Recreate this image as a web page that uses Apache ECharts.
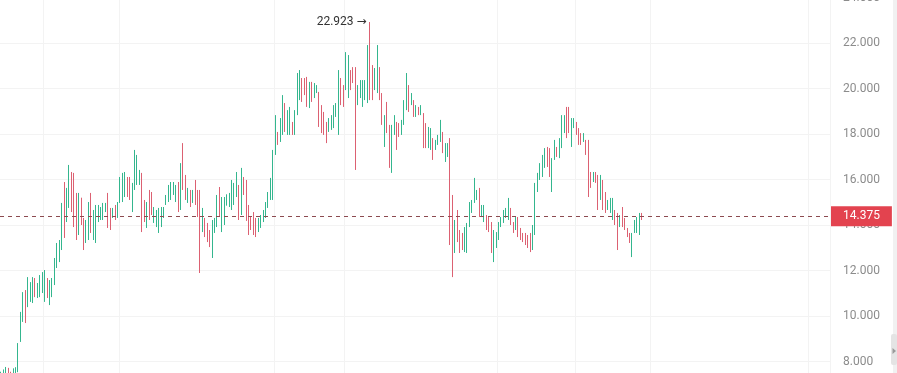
<!DOCTYPE html>
<html>
<head>
<meta charset="utf-8">
<script src="https://cdn.jsdelivr.net/npm/echarts@6/dist/echarts.min.js"></script>
<style>
html,body{margin:0;padding:0;background:#fff;}
#c{width:897px;height:373px;}
</style>
</head>
<body>
<div id="c"></div>
<script>
// OHLC values
const opens = [
7.2,7.45,7.5,7.7,7.45,7.3,7.6,7.7,8.9,10.0,
10.9,10.5,10.8,10.9,11.5,10.9,11.1,11.2,10.9,11.6,
10.8,11.0,11.5,12.3,12.6,13.1,15.5,14.3,15.0,16.2,
16.0,15.2,13.8,15.0,14.2,13.4,13.6,15.1,13.6,13.5,
14.3,14.3,14.4,14.6,15.2,14.6,14.35,14.8,14.4,15.0,
15.3,15.5,16.0,15.9,14.8,15.7,16.0,15.9,16.2,14.9,
14.0,15.4,15.2,14.2,14.0,13.8,14.0,14.4,14.9,15.1,
15.2,15.4,15.1,15.8,14.8,16.6,16.0,15.1,15.5,15.0,
15.9,15.4,15.2,13.8,14.2,14.0,13.7,12.8,13.7,14.0,
15.5,13.8,14.2,15.0,14.9,14.8,15.0,15.4,15.6,14.6,16.0,
15.8,14.7,14.3,14.4,14.2,13.7,13.9,14.2,14.4,14.8,
15.2,15.3,17.2,18.0,17.7,18.1,19.3,18.1,18.1,18.5,
18.0,19.0,19.6,20.4,20.3,20.4,19.3,20.2,19.6,19.85,
19.8,19.1,18.8,18.4,18.1,18.2,18.4,18.8,18.3,20.3,
20.0,20.0,19.8,20.7,20.9,20.7,19.3,19.7,19.3,19.6,
19.5,21.7,20.9,20.0,20.0,20.8,19.7,17.6,19.2,18.3,
16.6,18.0,18.4,18.4,18.0,18.5,19.2,20.0,19.3,19.4,
18.8,19.15,18.9,18.8,18.3,17.5,17.4,17.7,17.35,17.55,
17.7,18.0,16.9,17.1,17.6,14.9,12.9,14.5,13.6,13.5,
12.9,12.9,14.0,14.6,15.0,15.15,15.5,14.4,14.2,14.4,
14.3,14.0,12.6,13.1,13.4,13.95,14.1,14.35,14.3,
14.7,14.1,13.8,14.3,13.8,13.6,13.6,13.5,13.5,13.0,
13.8,15.5,16.0,16.2,16.6,17.3,17.2,15.6,16.9,17.4,
17.0,17.5,18.1,19.0,19.0,17.6,18.3,18.5,18.2,18.0,
17.65,17.7,17.6,16.3,15.9,16.3,16.0,15.2,15.9,15.3,
14.7,14.6,14.3,14.6,14.4,14.0,14.7,14.2,13.85,13.6,
12.8,13.7,13.8,13.7,14.4
];
const closes = [
7.45,7.5,7.7,7.45,7.3,7.6,7.7,8.75,10.1,10.9,
9.9,11.5,11.3,11.6,11.0,11.3,11.7,11.8,11.9,11.0,
11.4,11.6,12.4,13.1,13.2,14.7,13.7,15.4,16.4,14.8,
14.2,13.6,15.1,14.4,13.2,14.0,14.8,13.9,14.4,14.7,
14.8,14.7,14.9,14.9,14.1,13.9,14.7,14.3,14.95,16.0,
16.1,16.2,15.4,15.3,15.7,17.0,16.9,16.3,14.0,14.3,
14.9,14.4,14.6,14.7,14.6,14.6,14.7,14.75,15.3,15.7,
15.8,15.85,15.7,14.8,16.6,15.8,15.3,15.5,14.9,15.5,
15.0,14.5,13.6,14.6,13.6,13.4,13.1,14.1,14.2,15.1,
14.5,15.0,15.1,15.2,15.3,15.8,15.7,16.2,14.4,16.3,15.5,
14.4,13.8,13.9,13.7,13.6,14.2,14.4,14.6,14.9,15.4,
15.9,17.1,18.6,17.6,18.5,19.5,18.2,18.9,19.0,18.0,
18.9,20.5,20.6,19.6,19.8,19.4,20.1,19.5,20.1,20.1,
18.5,18.2,18.1,17.7,18.6,18.7,19.1,19.3,20.5,19.4,
19.3,21.4,21.2,20.0,20.3,19.2,20.0,20.3,20.2,20.3,
21.6,19.8,19.6,20.8,21.7,19.6,18.5,18.7,18.2,16.8,
18.2,18.7,17.5,17.9,18.5,19.3,20.4,19.1,19.7,18.8,
19.2,18.9,19.2,17.6,17.5,18.2,18.1,17.0,17.7,17.9,
18.5,17.3,17.5,17.5,13.5,12.9,14.0,13.4,12.9,13.0,
13.8,13.9,14.9,15.0,15.9,15.5,14.5,14.8,14.8,13.9,
13.9,12.9,13.6,13.6,14.0,14.3,14.6,14.7,15.1,
14.1,13.7,14.3,13.6,13.4,13.3,13.2,13.1,12.9,13.9,
15.6,16.2,16.6,16.9,17.3,16.7,16.3,16.8,17.6,17.1,
17.7,18.7,18.7,18.0,18.2,18.5,18.65,18.0,17.6,17.6,
18.0,17.2,15.6,15.8,16.3,15.9,14.9,16.0,14.9,14.7,
15.05,15.1,15.1,14.1,13.8,14.4,14.0,13.85,13.5,13.3,
13.6,14.2,14.3,14.4,14.375
];
const lows = [
7.1,7.3,7.4,7.3,7.2,7.25,7.4,7.53,8.86,9.74,
9.69,10.39,10.62,10.57,10.83,10.79,10.83,11.01,10.62,10.79,
10.48,10.83,11.36,12.11,12.37,12.9,13.43,14.13,14.75,14.57,
13.91,13.34,13.56,14.0,12.9,13.21,13.34,13.65,13.34,13.21,
14.13,14.22,14.22,14.57,13.87,13.78,14.31,14.22,14.31,14.97,
15.01,15.23,15.23,15.10,14.57,15.54,15.76,15.76,13.69,14.13,
13.87,14.22,14.44,14.09,13.91,13.65,13.91,14.31,14.88,15.01,
15.10,15.32,15.01,14.57,14.66,15.54,15.10,14.97,14.79,14.97,
14.88,14.35,11.89,13.69,13.47,13.25,13.03,12.55,13.65,13.91,
14.35,13.69,14.00,14.85,14.79,14.66,14.88,15.23,14.22,14.44,15.32,
14.18,13.56,13.78,13.56,13.47,13.69,13.87,14.13,14.31,14.75,
15.10,15.10,17.08,17.52,17.65,17.96,18.09,17.96,17.96,17.96,
17.96,18.83,19.49,19.41,19.71,19.19,19.14,19.41,19.58,19.80,
18.31,18.04,17.96,17.60,18.09,18.18,18.26,18.75,17.96,19.27,
19.19,19.93,19.58,19.93,20.24,16.42,19.27,19.58,19.19,19.49,
19.36,19.49,19.49,19.93,19.80,19.49,18.40,17.43,18.04,16.51,
16.29,17.96,17.30,17.87,17.96,18.40,19.05,18.97,19.27,18.75,
18.75,18.83,18.83,17.38,17.38,17.38,17.30,16.86,17.30,17.52,
17.65,17.16,16.77,16.99,13.12,11.71,12.77,13.25,12.77,12.90,
12.81,12.77,13.91,14.53,14.97,15.10,14.35,14.35,14.13,13.78,
13.69,12.77,12.37,12.99,13.34,13.91,14.09,14.31,14.22,
14.00,13.65,13.78,13.47,13.34,13.25,13.12,12.99,12.81,12.90,
13.56,15.45,15.98,16.11,16.51,16.55,16.11,15.45,16.86,16.99,
16.94,17.38,18.04,17.82,18.04,17.43,18.26,17.96,17.52,17.52,
17.65,17.08,15.23,15.63,15.89,15.85,14.66,15.10,14.66,14.53,
14.66,14.53,14.22,14.00,12.90,13.91,13.91,13.78,13.47,13.21,
12.59,13.65,13.65,13.56,14.22
];
const highs = [
7.55,7.65,7.76,7.72,7.55,7.7,7.75,8.81,10.18,11.05,
11.14,11.71,11.49,11.71,11.67,11.45,11.80,11.93,12.02,11.67,
11.58,11.67,12.55,13.21,13.34,14.97,15.89,15.63,16.64,16.33,
16.29,15.41,15.41,15.2,14.31,14.22,15.01,15.41,14.66,14.88,
14.88,14.79,14.97,14.97,15.41,14.75,14.75,14.88,15.01,16.11,
16.29,16.33,16.11,16.11,15.85,17.30,17.08,16.42,16.29,15.10,
15.01,15.54,15.45,14.79,14.66,14.75,14.79,14.79,15.32,15.76,
15.89,15.89,15.76,15.89,16.72,17.60,16.20,15.63,15.54,15.54,
15.98,15.54,15.54,14.75,14.31,14.09,13.78,14.22,14.31,15.32,
15.67,15.23,15.23,15.35,15.41,15.98,15.85,16.33,15.76,16.51,16.11,
15.98,14.88,14.35,14.57,14.31,14.31,14.44,14.66,15.01,15.45,
16.07,17.30,18.83,18.09,18.70,19.71,19.36,19.05,19.19,18.53,
19.05,20.68,20.81,20.46,20.46,20.51,20.29,20.29,20.24,20.15,
19.85,19.27,18.97,18.53,18.70,18.83,19.27,19.36,20.81,20.46,
20.15,21.60,21.47,20.81,20.94,20.94,20.15,20.37,20.37,20.37,
21.91,22.923,21.03,20.90,21.91,20.94,19.80,18.83,19.41,18.40,
18.40,18.83,18.53,18.48,18.62,19.49,20.68,20.15,19.80,19.49,
19.27,19.19,19.27,18.92,18.48,18.31,18.26,17.82,17.74,17.96,
18.62,18.09,17.60,17.60,17.82,15.32,14.22,14.66,13.78,13.65,
13.91,14.09,15.01,15.10,16.07,15.54,15.63,14.88,14.88,14.44,
14.35,14.13,13.78,13.69,14.13,14.35,14.66,14.75,15.19,
14.75,14.13,14.35,14.35,13.87,13.65,13.65,13.56,13.65,14.00,
15.85,16.29,16.72,17.08,17.38,17.43,17.38,16.94,17.74,17.43,
17.82,18.83,18.83,19.19,19.19,18.70,18.70,18.53,18.26,18.04,
18.04,17.74,17.74,16.33,16.33,16.33,16.20,16.20,15.98,15.45,
15.10,15.19,15.19,14.66,14.53,14.44,14.79,14.31,13.87,13.65,
13.65,14.22,14.35,14.53,14.53
];
// category slots (data occupies the left part; the rest is empty space)
const slotCount = 342;
const categories = Array.from({length: slotCount}, (_, i) => String(i));
// period boundaries shown as faint vertical grid lines
const monthStarts = [18, 49, 113, 142, 205, 237, 268, 333];
// y-axis ticks
const yMin = 6, yMax = 24, yStep = 2;

const ohlc = opens.map((o, i) => [o, closes[i], lows[i], highs[i]]);
const lastClose = closes[closes.length - 1];
let maxIdx = 0;
highs.forEach((h, i) => { if (h > highs[maxIdx]) maxIdx = i; });
const maxHigh = highs[maxIdx];

const chart = echarts.init(document.getElementById('c'), null, {renderer: 'canvas'});
chart.setOption({
  animation: false,
  backgroundColor: '#ffffff',
  textStyle: {fontFamily: 'Roboto, "Noto Sans", sans-serif'},
  grid: {left: 0, right: 67, top: -2.5, bottom: -34, containLabel: false, outerBoundsMode: 'none'},
  xAxis: {
    type: 'category',
    data: categories,
    boundaryGap: true,
    axisLine: {show: false},
    axisTick: {show: false},
    axisLabel: {show: false},
    splitLine: {
      show: true,
      interval: (idx) => monthStarts.indexOf(idx) >= 0,
      lineStyle: {color: '#f3f3f3', width: 1}
    }
  },
  yAxis: {
    type: 'value',
    position: 'right',
    min: yMin, max: yMax, interval: yStep,
    axisLine: {show: false},
    axisTick: {show: false},
    axisLabel: {
      margin: 13,
      color: '#8c8c8c',
      fontSize: 12,
      fontFamily: 'Roboto',
      formatter: (v) => v.toFixed(3)
    },
    splitLine: {show: true, lineStyle: {color: '#f3f3f3', width: 1}}
  },
  graphic: [
    {type: 'rect', shape: {x: 893, y: 0, width: 4, height: 373}, style: {fill: '#f1f1f1'}, silent: true},
    {type: 'rect', shape: {x: 891, y: 334, width: 6, height: 31, r: 2}, style: {fill: '#e4e4e4'}, silent: true},
    {type: 'polygon', shape: {points: [[892.5, 348], [896, 351], [892.5, 354]]}, style: {fill: '#9a9a9a'}, silent: true}
  ],
  series: [{
    type: 'candlestick',
    data: ohlc,
    barWidth: 1,
    clip: true,
    itemStyle: {
      color: '#5ccba6',
      color0: '#ec8d99',
      borderColor: '#34b68e',
      borderColor0: '#dc6172',
      borderWidth: 1
    },
    markLine: {
      silent: true,
      symbol: ['none', 'none'],
      animation: false,
      lineStyle: {color: '#8c4a50', type: [4, 4], width: 1},
      label: {
        show: true,
        position: 'end',
        distance: 1,
        formatter: () => lastClose.toFixed(3),
        color: '#ffffff',
        fontSize: 12,
        fontFamily: 'Roboto',
        backgroundColor: '#e3434f',
        padding: [4, 12, 4, 12]
      },
      data: [{yAxis: lastClose}]
    },
    markPoint: {
      silent: true,
      animation: false,
      symbol: 'rect',
      symbolSize: [1, 1],
      itemStyle: {color: 'rgba(0,0,0,0)'},
      label: {
        show: true,
        position: 'left',
        distance: 3,
        formatter: () => '{n|' + maxHigh.toFixed(3) + '} {a|\u2192}',
        rich: {
          n: {color: '#333333', fontSize: 12, fontFamily: 'Roboto'},
          a: {color: '#333333', fontSize: 12, fontFamily: 'DejaVu Sans'}
        }
      },
      data: [{coord: [maxIdx, maxHigh], value: maxHigh}]
    }
  }]
});
</script>
</body>
</html>
